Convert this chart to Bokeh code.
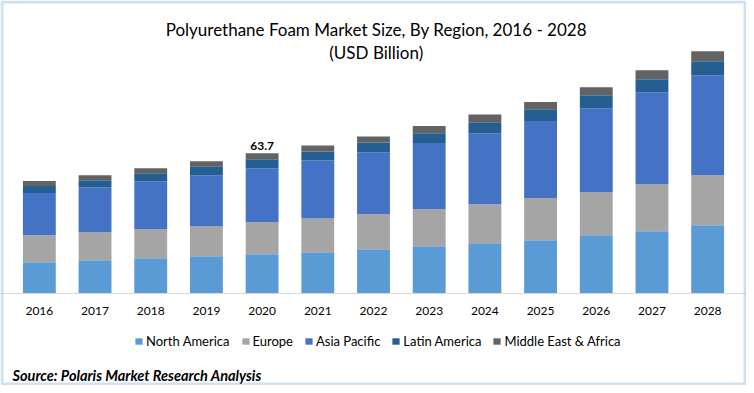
from bokeh.plotting import figure
from bokeh.models import FactorRange, Range1d, Label, Legend, LegendItem, BoxAnnotation
from bokeh.embed import file_html
from bokeh.resources import INLINE

years = ["2016", "2017", "2018", "2019", "2020", "2021", "2022",
         "2023", "2024", "2025", "2026", "2027", "2028"]
north_america = [14.2, 15.1, 16.0, 16.9, 17.8, 18.7, 20.1, 21.5, 22.8, 24.2, 26.5, 28.3, 31.0]
europe = [12.3, 12.7, 13.2, 13.6, 14.5, 15.4, 15.9, 16.8, 17.7, 19.1, 19.5, 21.3, 22.7]
asia_pacific = [19.1, 20.4, 21.8, 23.2, 24.6, 26.3, 28.1, 30.0, 32.2, 35.0, 38.1, 41.8, 45.4]
latin_america = [3.2, 3.2, 3.6, 4.1, 4.1, 4.1, 4.5, 4.5, 5.0, 5.4, 5.9, 5.9, 6.4]
middle_east_africa = [2.3, 2.3, 2.3, 2.3, 2.7, 2.7, 2.7, 3.2, 3.6, 3.2, 3.6, 4.1, 4.5]
series_names = ["North America", "Europe", "Asia Pacific", "Latin America", "Middle East & Africa"]
series_keys = ["na", "eu", "ap", "la", "mea"]
colors = ["#5B9BD5", "#A5A5A5", "#4472C4", "#255E91", "#636363"]
annotated_year = "2020"
annotated_value = "63.7"
title_line1 = "Polyurethane Foam Market Size, By Region, 2016 - 2028"
title_line2 = "(USD Billion)"
source_text = "Source: Polaris Market Research Analysis"

FONT = "Lato"
W, H = 746, 385

data = dict(years=years, na=north_america, eu=europe, ap=asia_pacific,
            la=latin_america, mea=middle_east_africa)

p = figure(width=W, height=H, output_backend="svg", toolbar_location=None,
           title=None,
           x_range=FactorRange(*years, range_padding=0.0304),
           y_range=Range1d(-41.77, 133.03),
           min_border_left=0, min_border_right=0, min_border_top=0, min_border_bottom=0)

renderers = p.vbar_stack(series_keys, x="years", width=0.59, source=data,
                         color=colors, line_color=None)

p.background_fill_color = "white"
p.border_fill_color = "white"
p.outline_line_color = None
p.xgrid.visible = False
p.ygrid.visible = False
p.yaxis.visible = False

ax = p.xaxis[0]
ax.fixed_location = 0
ax.axis_line_color = "#D9D9D9"
ax.axis_line_width = 1
ax.major_tick_line_color = None
ax.minor_tick_line_color = None
ax.major_tick_out = 0
ax.major_tick_in = 0
ax.major_label_standoff = 13
ax.major_label_text_font = FONT
ax.major_label_text_font_size = "12px"
ax.major_label_text_color = "#000000"

# legend below the axis
legend = Legend(items=[LegendItem(label=n, renderers=[r]) for n, r in zip(series_names, renderers)],
                orientation="horizontal", location=(134, 36),
                glyph_width=9, glyph_height=8, label_standoff=3, spacing=11,
                padding=0, margin=0, label_height=12,
                border_line_color=None, background_fill_alpha=0,
                label_text_font=FONT, label_text_font_size="13px",
                label_text_color="#000000", label_text_baseline="middle")
p.add_layout(legend)

# source line
p.add_layout(Label(x=0.018, y=-37.23, text=source_text,
                   text_align="left", text_baseline="alphabetic",
                   text_font=FONT, text_font_size="14.5px", text_font_style="bold italic",
                   text_color="#000000"))

# title lines
p.add_layout(Label(x=6.55, y=119.9, text=title_line1,
                   text_align="center", text_baseline="alphabetic",
                   text_font=FONT, text_font_size="17px", text_color="#000000"))
p.add_layout(Label(x=6.55, y=109.4, text=title_line2,
                   text_align="center", text_baseline="alphabetic",
                   text_font=FONT, text_font_size="17px", text_color="#000000"))

# value annotation on 2020 bar
idx = years.index(annotated_year)
total = north_america[idx] + europe[idx] + asia_pacific[idx] + latin_america[idx] + middle_east_africa[idx]
p.add_layout(Label(x=idx + 0.5, y=total, y_offset=7, text=annotated_value,
                   text_align="center", text_baseline="alphabetic",
                   text_font=FONT, text_font_size="12px", text_font_style="bold",
                   text_color="#000000"))

# outer border of the chart image
p.add_layout(BoxAnnotation(left=1.5, right=W - 1.5, top=H - 1.5, bottom=1.5,
                           left_units="screen", right_units="screen",
                           top_units="screen", bottom_units="screen",
                           fill_alpha=0, line_color="#5B9BD5", line_width=3))

open("out.html", "w").write(file_html(p, INLINE))
